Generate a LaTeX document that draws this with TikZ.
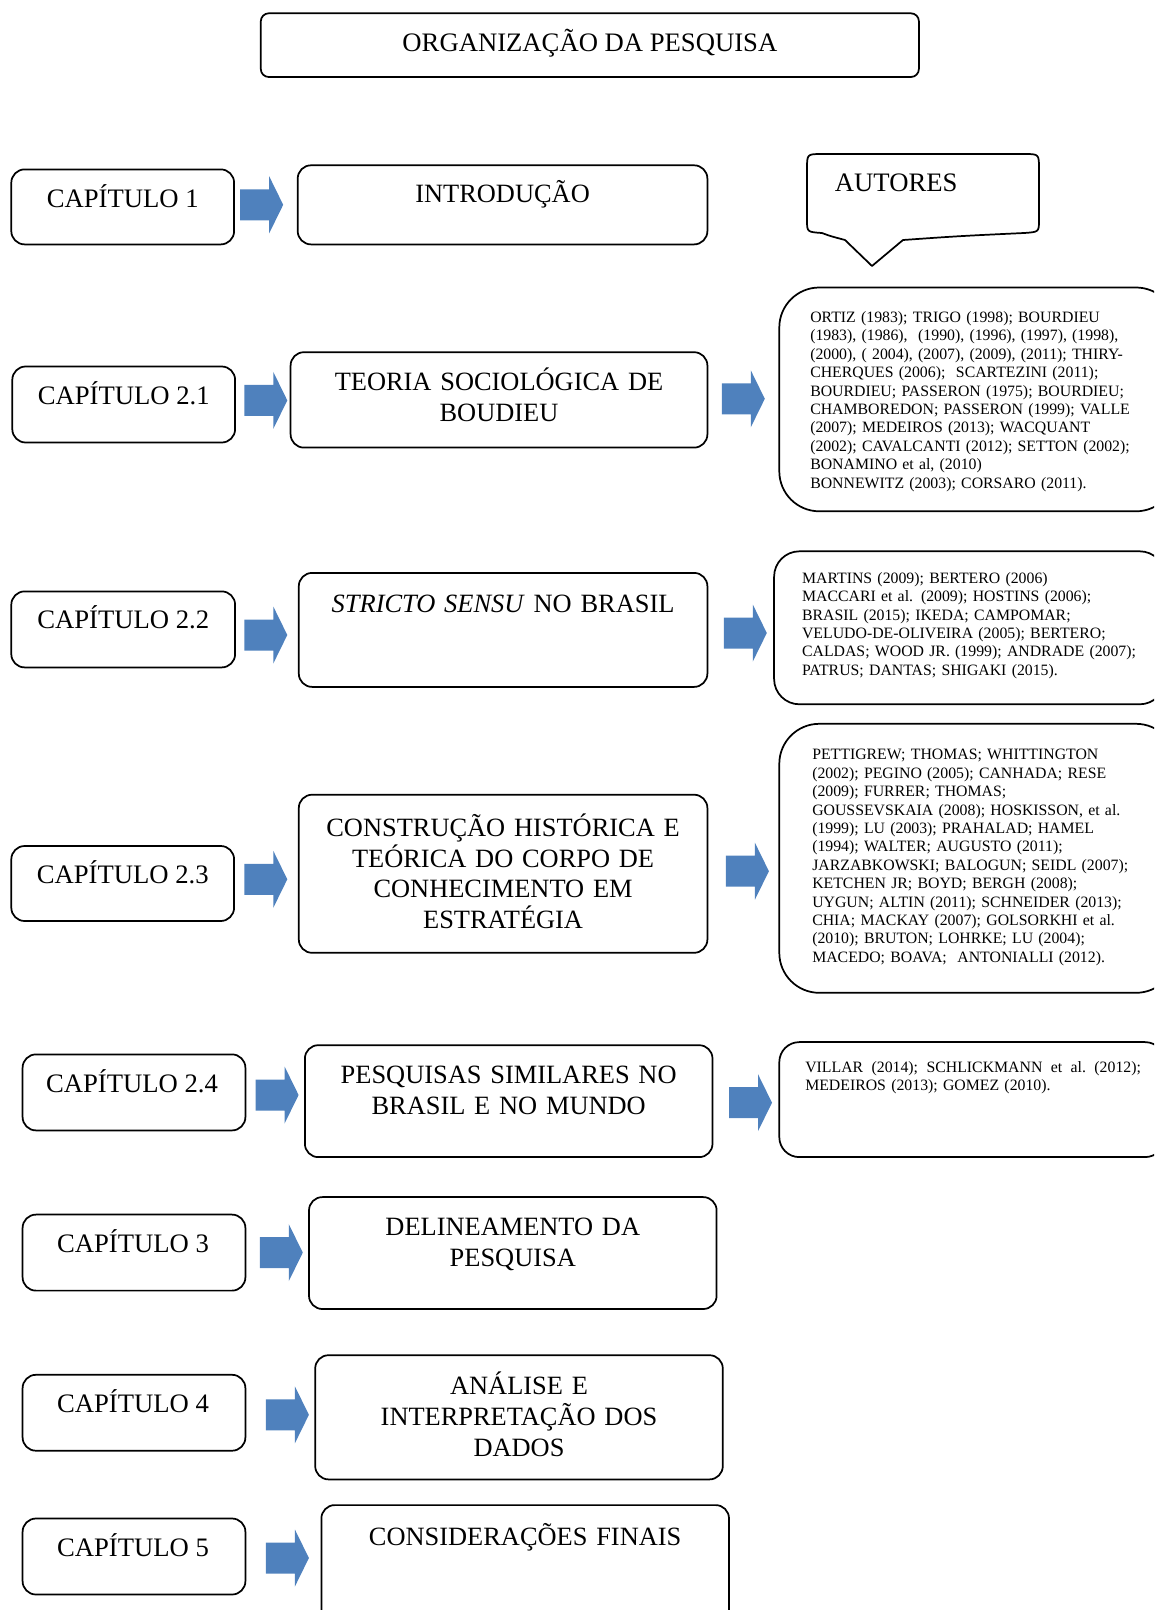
\documentclass[tikz,border=0pt]{standalone}
\usepackage{fontspec}
\setmainfont{Liberation Serif}
\definecolor{arrowblue}{RGB}{79,129,189}
\tikzset{
  box/.style={draw, line width=1.3pt, rounded corners=10pt, inner sep=0pt},
  bigtxt/.style={font=\fontsize{20}{23.1}\selectfont, anchor=base, inner sep=0pt},
  multitxt/.style={font=\fontsize{19.8}{23.1}\selectfont, anchor=base, inner sep=0pt, text width=300pt, align=center},
  authtxt/.style={font=\fontsize{11.85}{13.8}\selectfont, anchor=base west, inner sep=0pt, text width=300pt, align=left},
  blockarrow/.style={fill=arrowblue, draw=none}
}
\newcommand\rbox[6][]{\node[box,#1,minimum width={(#4-#2)*0.75pt},minimum height={(#5-#3)*0.75pt}] (#6) at ({(#2+#4)/2},{(#3+#5)/2}) {};}
\newcommand\barrow[2]{\fill[blockarrow] (#1,#2) ++(0,-15.5) -- ++(29,0) -- ++(0,-13) -- ++(14,28.5) -- ++(-14,28.5) -- ++(0,-13) -- ++(-29,0) -- cycle;}
\begin{document}
\begin{tikzpicture}[x=0.75pt,y=-0.75pt]
\useasboundingbox (0,0) rectangle (1154,1610);
\clip (0,0) rectangle (1154,1610);

% title
\rbox[rounded corners=6pt]{260.8}{13.3}{918.9}{77}{title}
\node[bigtxt] (titletxt) at (589.9,51.9) {ORGANIZAÇÃO DA PESQUISA};

% chapter boxes
\rbox{11.3}{169.4}{234.1}{244.4}{c1}
\rbox{12.3}{366.5}{235.1}{442.5}{c21}
\rbox{11.3}{591.4}{235.1}{667.4}{c22}
\rbox{11.3}{846}{234.1}{921}{c23}
\rbox{22.6}{1054.4}{245.4}{1130.4}{c24}
\rbox{22.6}{1214.6}{245.4}{1290.6}{c3}
\rbox{22.6}{1374.8}{245.4}{1450.7}{c4}
\rbox{22.6}{1518.5}{245.4}{1594.5}{c5}
\node[bigtxt] (c1t) at (122.7,207) {CAPÍTULO 1};
\node[bigtxt] (c21t) at (123.7,404.1) {CAPÍTULO 2.1};
\node[bigtxt] (c22t) at (123.2,628.9) {CAPÍTULO 2.2};
\node[bigtxt] (c23t) at (122.7,883.5) {CAPÍTULO 2.3};
\node[bigtxt] (c24t) at (132,1092) {CAPÍTULO 2.4};
\node[bigtxt] (c3t) at (133,1252.1) {CAPÍTULO 3};
\node[bigtxt] (c4t) at (133,1412.3) {CAPÍTULO 4};
\node[bigtxt] (c5t) at (133,1556) {CAPÍTULO 5};

% topic boxes
\rbox{297.7}{165.3}{707.4}{244.4}{t1}
\rbox{290.6}{352.2}{707.4}{447.6}{t21}
\rbox{298.8}{572.9}{707.4}{686.9}{t22}
\rbox{298.8}{794.7}{707.4}{952.8}{t23}
\rbox{304.9}{1045.2}{712.5}{1157.1}{t24}
\rbox{309}{1197.1}{716.6}{1309}{t3}
\rbox{315.2}{1355.2}{722.8}{1479.4}{t4}
\rbox{321.4}{1505.1}{729}{1640}{t5}
\node[multitxt] (t1t) at (502.6,202.8) {INTRODUÇÃO};
\node[multitxt] (t21t) at (499,390.7) {TEORIA SOCIOLÓGICA DE\\BOUDIEU};
\node[multitxt] (t22t) at (503.1,612.5) {\textit{STRICTO SENSU} NO BRASIL};
\node[multitxt] (t23t) at (503.1,836.3) {CONSTRUÇÃO HISTÓRICA E\\TEÓRICA DO CORPO DE\\CONHECIMENTO EM\\ESTRATÉGIA};
\node[multitxt] (t24t) at (508.7,1083.8) {PESQUISAS SIMILARES NO\\BRASIL E NO MUNDO};
\node[multitxt] (t3t) at (512.8,1235.7) {DELINEAMENTO DA\\PESQUISA};
\node[multitxt] (t4t) at (519,1394.8) {ANÁLISE E\\INTERPRETAÇÃO DOS\\DADOS};
\node[multitxt] (t5t) at (525.2,1545.8) {CONSIDERAÇÕES FINAIS};

% callout
\draw[line width=1.3pt, line join=round] (822,154) -- (1024,154) .. controls (1039,154) .. (1039,169) -- (1039,220)
  .. controls (1039,232) .. (1024,233) .. controls (960,236) .. (903,240) -- (872,266) -- (845,240)
  .. controls (830,236) .. (822,233) .. controls (807,232) .. (807,220) -- (807,169) .. controls (807,154) .. (822,154) -- cycle;
\node[bigtxt, anchor=base west] (autores) at (834.7,191.5) {AUTORES};

% author boxes
\rbox[rounded corners=30pt]{779.3}{287.5}{1176}{511.3}{r21}
\rbox[rounded corners=19pt]{774.1}{551.3}{1165}{704.3}{r22}
\rbox[rounded corners=30pt]{779.3}{723.8}{1176}{992.8}{r23}
\rbox[rounded corners=15pt]{779.3}{1042.1}{1165}{1157.1}{r24}

\node[authtxt] (r21t) at (810,322.5) {ORTIZ (1983); TRIGO (1998); BOURDIEU\\
(1983), (1986),\ \ (1990), (1996), (1997), (1998),\\
(2000), ( 2004), (2007), (2009), (2011); THIRY-\\
CHERQUES (2006);\ \ SCARTEZINI (2011);\\
BOURDIEU; PASSERON (1975); BOURDIEU;\\
CHAMBOREDON; PASSERON (1999); VALLE\\
(2007); MEDEIROS (2013); WACQUANT\\
(2002); CAVALCANTI (2012); SETTON (2002);\\
BONAMINO et al, (2010)\\
BONNEWITZ (2003); CORSARO (2011).};

\node[authtxt] (r22t) at (801.8,583.3) {MARTINS (2009); BERTERO (2006)\\
MACCARI et al. (2009); HOSTINS (2006);\\
BRASIL (2015); IKEDA; CAMPOMAR;\\
VELUDO-DE-OLIVEIRA (2005); BERTERO;\\
CALDAS; WOOD JR. (1999); ANDRADE (2007);\\
PATRUS; DANTAS; SHIGAKI (2015).};

\node[authtxt] (r23t) at (812,759.9) {PETTIGREW; THOMAS; WHITTINGTON\\
(2002); PEGINO (2005); CANHADA; RESE\\
(2009); FURRER; THOMAS;\\
GOUSSEVSKAIA (2008); HOSKISSON, et al.\\
(1999); LU (2003); PRAHALAD; HAMEL\\
(1994); WALTER; AUGUSTO (2011);\\
JARZABKOWSKI; BALOGUN; SEIDL (2007);\\
KETCHEN JR; BOYD; BERGH (2008);\\
UYGUN; ALTIN (2011); SCHNEIDER (2013);\\
CHIA; MACKAY (2007); GOLSORKHI et al.\\
(2010); BRUTON; LOHRKE; LU (2004);\\
MACEDO; BOAVA;\ \ ANTONIALLI (2012).};

\node[authtxt] (r24t) at (805,1072) {\hbox to 251.8pt{VILLAR\hfill(2014);\hfill SCHLICKMANN\hfill et\hfill al.\hfill(2012);}\\
MEDEIROS (2013); GOMEZ (2010).};

% block arrows
\barrow{240.2}{204.8}
\barrow{244.3}{400.4}
\barrow{721.8}{398.8}
\barrow{244.3}{635}
\barrow{723.8}{633}
\barrow{244.3}{879.3}
\barrow{725.9}{871.2}
\barrow{255.6}{1095}
\barrow{729}{1102.7}
\barrow{259.8}{1252.6}
\barrow{265.9}{1414.8}
\barrow{265.9}{1558}
\end{tikzpicture}
\end{document}
